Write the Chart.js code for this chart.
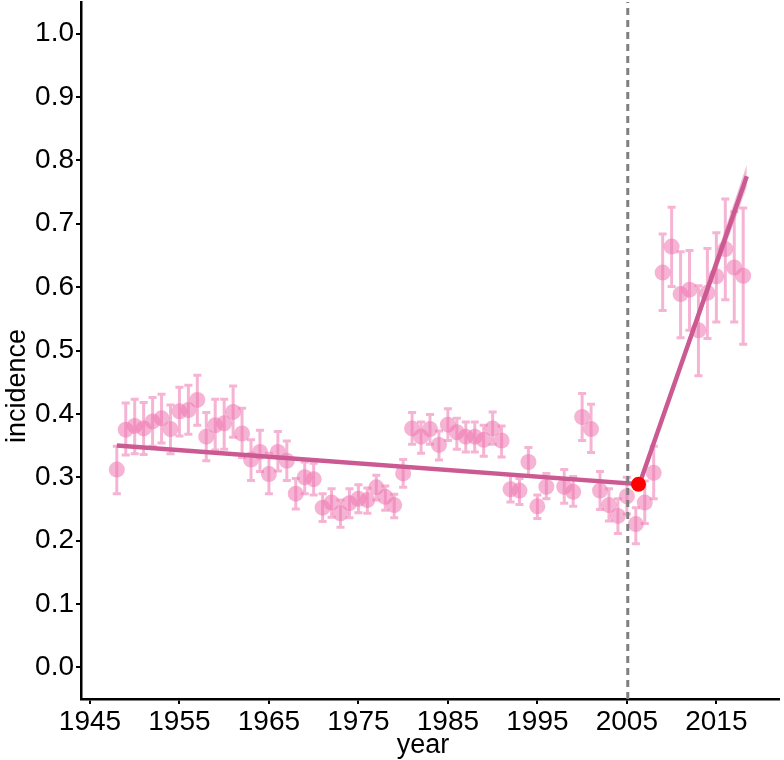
<!DOCTYPE html>
<html>
<head>
<meta charset="utf-8">
<script src="https://cdn.jsdelivr.net/npm/chart.js@4/dist/chart.umd.min.js"></script>
<style>
  body { margin: 0; background: #fff; }
  #wrap { width: 784px; height: 760px; }
</style>
</head>
<body>
<div id="wrap"><canvas id="myChart" width="784" height="760"></canvas></div>
<script>
// données (1997 absent)
const years = [1948,1949,1950,1951,1952,1953,1954,1955,1956,1957,1958,1959,1960,1961,1962,1963,1964,1965,1966,1967,
  1968,1969,1970,1971,1972,1973,1974,1975,1976,1977,1978,1979,1980,1981,1982,1983,1984,1985,1986,1987,
  1988,1989,1990,1991,1992,1993,1994,1995,1996,1998,1999,2000,2001,2002,2003,2004,2005,2006,2007,2008,
  2009,2010,2011,2012,2013,2014,2015,2016,2017,2018];
const incidence = [0.312,0.375,0.381,0.377,0.388,0.393,0.376,0.404,0.406,0.422,0.364,0.382,0.385,0.403,0.369,0.328,0.340,0.305,0.340,0.326,
  0.274,0.300,0.297,0.252,0.260,0.243,0.259,0.266,0.264,0.284,0.269,0.256,0.306,0.377,0.364,0.376,0.351,0.383,0.371,0.364,
  0.364,0.359,0.377,0.358,0.281,0.279,0.324,0.254,0.285,0.285,0.277,0.395,0.376,0.279,0.256,0.239,0.270,0.226,0.260,0.307,
  0.623,0.664,0.589,0.596,0.532,0.591,0.617,0.660,0.631,0.618];
const lower = [0.274,0.335,0.337,0.336,0.349,0.354,0.337,0.365,0.368,0.382,0.326,0.343,0.344,0.363,0.331,0.295,0.309,0.274,0.310,0.295,
  0.250,0.274,0.272,0.230,0.237,0.221,0.236,0.244,0.243,0.264,0.248,0.236,0.284,0.352,0.338,0.352,0.327,0.358,0.344,0.340,
  0.340,0.333,0.352,0.332,0.261,0.257,0.302,0.235,0.266,0.259,0.254,0.358,0.339,0.249,0.231,0.211,0.242,0.195,0.227,0.266,
  0.563,0.601,0.520,0.532,0.460,0.519,0.545,0.580,0.545,0.510];
const upper = [0.349,0.417,0.423,0.418,0.426,0.431,0.414,0.442,0.445,0.461,0.402,0.423,0.423,0.444,0.409,0.359,0.374,0.338,0.372,0.357,
  0.298,0.324,0.322,0.274,0.282,0.264,0.282,0.288,0.283,0.303,0.286,0.273,0.328,0.402,0.387,0.399,0.373,0.408,0.393,0.387,
  0.387,0.382,0.403,0.381,0.303,0.298,0.347,0.272,0.306,0.312,0.301,0.432,0.415,0.309,0.282,0.266,0.300,0.252,0.294,0.349,
  0.684,0.726,0.656,0.658,0.602,0.661,0.686,0.739,0.719,0.725];

// droite segmentée + point de rupture
const fitYears = [1948, 2006.4, 2018.4];
const fitValues = [0.350, 0.289, 0.775];
const bandYears = [2006.4, 2018.4];
const bandLow = [0.289, 0.758];
const bandHigh = [0.289, 0.793];
const breakPoint = { x: 2006.3, y: 0.289 };
const vlineYear = 2005.1;

const xTicks = [1945, 1955, 1965, 1975, 1985, 1995, 2005, 2015];

const pink = 'rgba(238,118,176,0.55)';
const trendColor = '#cc5a92';

// barres d'erreur dessinées via les échelles du graphique
const errorBars = {
    id: 'errorBars',
    beforeDatasetsDraw(chart) {
        const xs = chart.scales.x, ys = chart.scales.y;
        const ctx = chart.ctx;
        ctx.save();
        ctx.strokeStyle = pink;
        ctx.lineWidth = 3;
        years.forEach((yr, i) => {
            const px = xs.getPixelForValue(yr);
            const half = xs.getPixelForValue(yr + 0.45) - px;
            const yl = ys.getPixelForValue(lower[i]);
            const yh = ys.getPixelForValue(upper[i]);
            ctx.beginPath();
            ctx.moveTo(px, yl); ctx.lineTo(px, yh);
            ctx.moveTo(px - half, yl); ctx.lineTo(px + half, yl);
            ctx.moveTo(px - half, yh); ctx.lineTo(px + half, yh);
            ctx.stroke();
        });
        ctx.restore();
    }
};

// titres des axes (placés comme sur l'original)
const axisTitles = {
    id: 'axisTitles',
    afterDraw(chart) {
        const ctx = chart.ctx;
        ctx.save();
        ctx.fillStyle = '#000';
        ctx.font = '27px "Liberation Sans", Arial, sans-serif';
        ctx.textAlign = 'center';
        ctx.textBaseline = 'middle';
        ctx.fillText('year', 423, 746);
        ctx.translate(18, 386);
        ctx.rotate(-Math.PI / 2);
        ctx.fillText('incidence', 0, 0);
        ctx.restore();
    }
};

const noPad = s => { s.paddingTop = 0; s.paddingBottom = 0; s.paddingLeft = 0; s.paddingRight = 0; };

const tickFont = { family: 'Liberation Sans, Arial, sans-serif', size: 28 };

new Chart(document.getElementById('myChart').getContext('2d'), {
    type: 'scatter',
    data: {
        datasets: [
            {
                label: 'rupture',
                data: [breakPoint],
                backgroundColor: '#ff0000',
                borderWidth: 0,
                pointRadius: 7.5,
                order: 0
            },
            {
                type: 'line',
                label: 'vline',
                data: [{ x: vlineYear, y: -0.05 }, { x: vlineYear, y: 1.05 }],
                borderColor: '#7f7f7f',
                borderWidth: 3,
                borderDash: [7, 5],
                pointRadius: 0,
                order: 1
            },
            {
                type: 'line',
                label: 'fit',
                data: fitYears.map((x, i) => ({ x: x, y: fitValues[i] })),
                borderColor: trendColor,
                borderWidth: 4.5,
                pointRadius: 0,
                order: 2
            },
            {
                type: 'line',
                label: 'bandHigh',
                data: bandYears.map((x, i) => ({ x: x, y: bandHigh[i] })),
                borderWidth: 0,
                borderColor: 'rgba(0,0,0,0)',
                backgroundColor: 'rgba(214,110,160,0.45)',
                fill: '+1',
                pointRadius: 0,
                order: 3
            },
            {
                type: 'line',
                label: 'bandLow',
                data: bandYears.map((x, i) => ({ x: x, y: bandLow[i] })),
                borderWidth: 0,
                borderColor: 'rgba(0,0,0,0)',
                pointRadius: 0,
                fill: false,
                order: 4
            },
            {
                label: 'incidence',
                data: years.map((x, i) => ({ x: x, y: incidence[i] })),
                backgroundColor: pink,
                borderWidth: 0,
                pointRadius: 8,
                order: 5
            }
        ]
    },
    options: {
        responsive: false,
        animation: false,
        layout: { autoPadding: false, padding: { top: 2, right: 5, left: 0, bottom: 0 } },
        plugins: { legend: { display: false }, tooltip: { enabled: false } },
        scales: {
            x: {
                type: 'linear',
                min: 1944,
                max: 2022,
                afterBuildTicks: s => { s.ticks = xTicks.map(v => ({ value: v })); },
                afterFit: s => { s.height = 61; noPad(s); },
                border: { display: true, color: '#000', width: 2.5 },
                grid: { drawOnChartArea: false, drawTicks: true, tickLength: 5, color: '#000', lineWidth: 2 },
                ticks: { color: '#000', font: tickFont, padding: 1, maxRotation: 0, callback: v => String(v) },
                title: { display: false }
            },
            y: {
                min: -0.05,
                max: 1.05,
                afterBuildTicks: s => {
                    const t = [];
                    for (let k = 0; k <= 10; k++) t.push({ value: k / 10 });
                    s.ticks = t;
                },
                afterFit: s => { s.width = 81; noPad(s); },
                border: { display: true, color: '#000', width: 2.5 },
                grid: { drawOnChartArea: false, drawTicks: true, tickLength: 5, color: '#000', lineWidth: 2 },
                ticks: { color: '#000', font: tickFont, padding: 2, callback: v => v.toFixed(1) },
                title: { display: false }
            }
        }
    },
    plugins: [errorBars, axisTitles]
});
</script>
</body>
</html>
